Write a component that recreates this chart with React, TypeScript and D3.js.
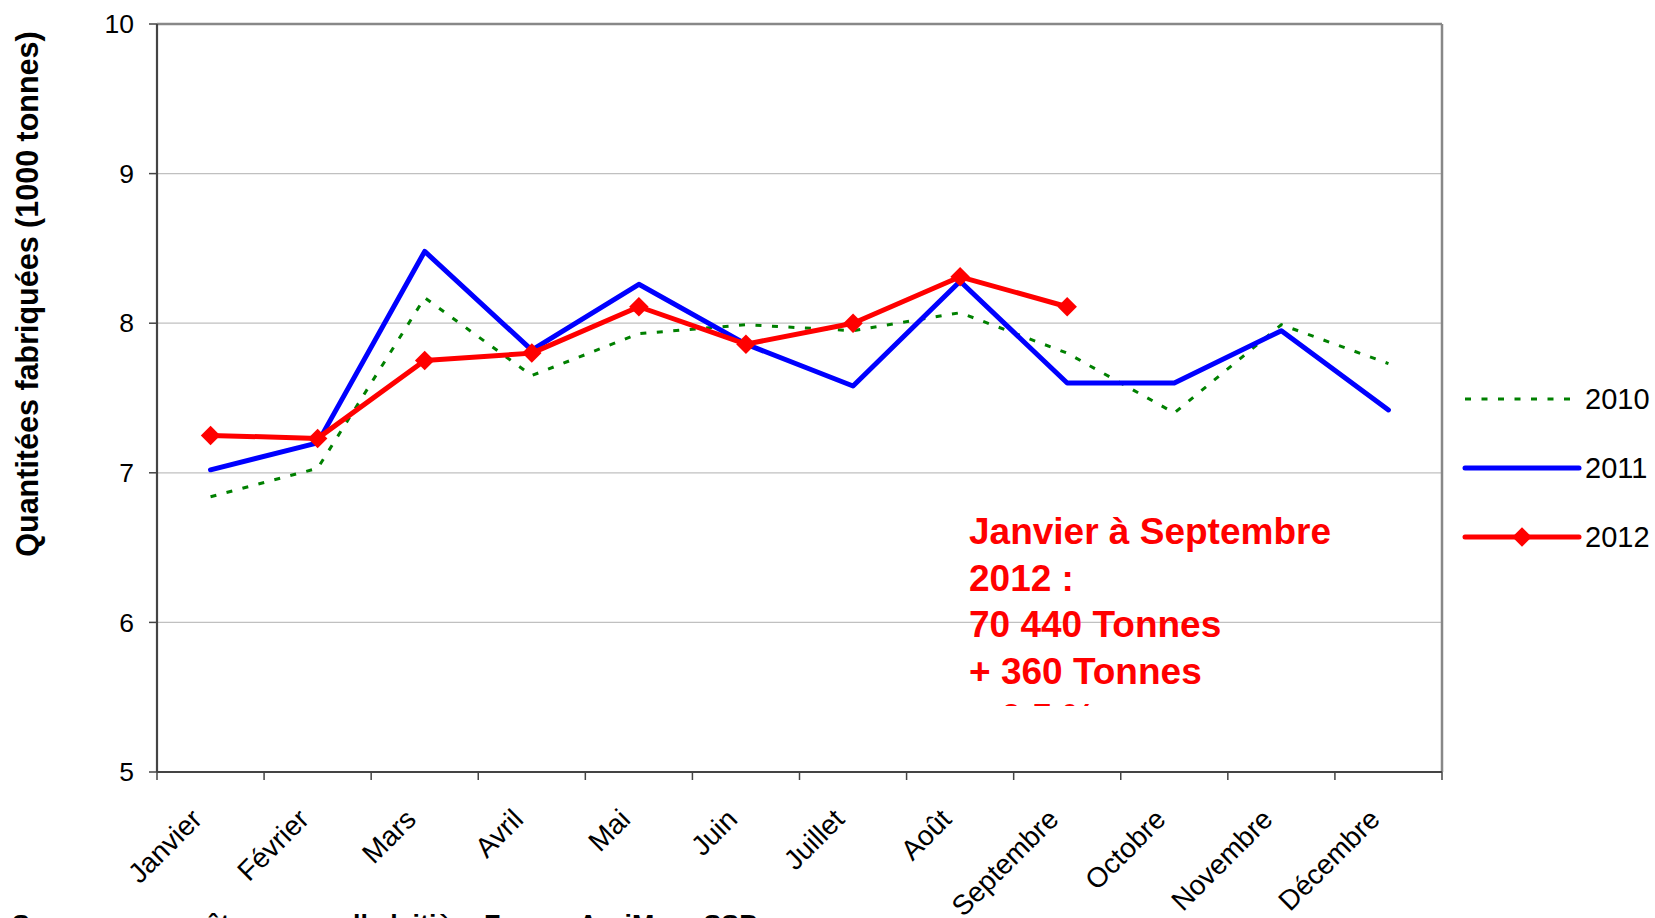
import { useEffect } from "react";
import * as d3 from "d3";

const months = ["Janvier", "Février", "Mars", "Avril", "Mai", "Juin", "Juillet", "Août", "Septembre", "Octobre", "Novembre", "Décembre"];
const values2010 = [6.84, 7.03, 8.17, 7.65, 7.93, 7.99, 7.95, 8.07, 7.8, 7.4, 7.99, 7.73];
const values2011 = [7.02, 7.2, 8.48, 7.82, 8.26, 7.86, 7.58, 8.28, 7.6, 7.6, 7.95, 7.42];
const values2012 = [7.25, 7.23, 7.75, 7.8, 8.11, 7.86, 8.0, 8.31, 8.11];
const yTicks = [5, 6, 7, 8, 9, 10];
const noteLines = ["Janvier à Septembre", "2012 :", "70 440 Tonnes", "+ 360 Tonnes", "+ 0,5 %"];
const legendItems = ["2010", "2011", "2012"];

const W = 1655;
const H = 918;
const left = 157;
const right = 1442;
const top = 24;
const bottom = 772;
const font = "Arial, 'Liberation Sans', sans-serif";

const App = () => {
  useEffect(() => {
    document.body.style.margin = "0";
  }, []);

  const x = d3.scaleBand<string>().domain(months).range([left, right]);
  const cx = (m: string) => (x(m) ?? 0) + x.bandwidth() / 2;
  const y = d3.scaleLinear().domain([5, 10]).range([bottom, top]);

  const line = d3
    .line<number>()
    .x((_, i) => cx(months[i]))
    .y(d => y(d));

  const diamond = d3.symbol().type(d3.symbolSquare).size(190)()!;
  const legendY = d3.scalePoint<string>().domain(legendItems).range([399, 537]);
  const tickEdges = d3.range(months.length + 1).map(i => left + i * x.step());

  return (
    <svg width={W} height={H} style={{ display: "block", background: "#fff" }} fontFamily={font}>
      <defs>
        <clipPath id="noteClip">
          <rect x={900} y={480} width={500} height={226} />
        </clipPath>
      </defs>

      {/* grid */}
      {yTicks.slice(1, -1).map(t => (
        <line key={t} x1={left} x2={right} y1={y(t)} y2={y(t)} stroke="#c0c0c0" strokeWidth={1.2} />
      ))}
      {/* frame top/right */}
      <line x1={left} x2={right} y1={top} y2={top} stroke="#888" strokeWidth={2.5} />
      <line x1={right} x2={right} y1={top} y2={bottom} stroke="#888" strokeWidth={2.5} />

      {/* y axis */}
      <line x1={left} x2={left} y1={top} y2={bottom} stroke="#444" strokeWidth={2.2} />
      {yTicks.map(t => (
        <g key={t}>
          <line x1={left - 8} x2={left} y1={y(t)} y2={y(t)} stroke="#444" strokeWidth={1.5} />
          <text x={134} y={y(t)} dy="0.35em" textAnchor="end" fontSize={26.5} fill="#000">
            {t}
          </text>
        </g>
      ))}

      {/* x axis */}
      <line x1={left} x2={right} y1={bottom} y2={bottom} stroke="#444" strokeWidth={2.2} />
      {tickEdges.map((tx, i) => (
        <line key={i} x1={tx} x2={tx} y1={bottom} y2={bottom + 8} stroke="#444" strokeWidth={1.5} />
      ))}
      {months.map(m => (
        <text
          key={m}
          transform={`translate(${cx(m) - 7},${bottom + 49}) rotate(-45)`}
          textAnchor="end"
          fontSize={28}
          fill="#000"
        >
          {m}
        </text>
      ))}

      <text
        transform={`translate(38,294) rotate(-90)`}
        textAnchor="middle"
        fontSize={30.5}
        fontWeight="bold"
        fill="#000"
      >
        Quantitées fabriquées (1000 tonnes)
      </text>

      {/* series */}
      <path d={line(values2010)!} fill="none" stroke="#008000" strokeWidth={3} strokeDasharray="6,10.5" />
      <path d={line(values2011)!} fill="none" stroke="#0000ff" strokeWidth={5} strokeLinejoin="round" strokeLinecap="round" />
      <path d={line(values2012)!} fill="none" stroke="#ff0000" strokeWidth={5} strokeLinejoin="round" strokeLinecap="round" />
      {values2012.map((v, i) => (
        <path key={i} d={diamond} transform={`translate(${cx(months[i])},${y(v)}) rotate(45)`} fill="#ff0000" />
      ))}

      {/* note */}
      <g clipPath="url(#noteClip)">
        {noteLines.map((t, i) => (
          <text key={i} x={969} y={544 + i * 46.5} fontSize={37} fontWeight="bold" fill="#ff0000">
            {t}
          </text>
        ))}
      </g>

      {/* legend */}
      {legendItems.map((k, i) => {
        const ly = legendY(k)!;
        return (
          <g key={k}>
            {i === 0 && (
              <line x1={1465} x2={1579} y1={ly} y2={ly} stroke="#008000" strokeWidth={3} strokeDasharray="6,10.5" />
            )}
            {i === 1 && (
              <line x1={1465} x2={1579} y1={ly} y2={ly} stroke="#0000ff" strokeWidth={5} strokeLinecap="round" />
            )}
            {i === 2 && (
              <g>
                <line x1={1465} x2={1579} y1={ly} y2={ly} stroke="#ff0000" strokeWidth={5} strokeLinecap="round" />
                <path d={diamond} transform={`translate(1522,${ly}) rotate(45)`} fill="#ff0000" />
              </g>
            )}
            <text x={1585} y={ly + 10} fontSize={29} fill="#000">
              {k}
            </text>
          </g>
        );
      })}

      {/* source, cut by the bottom edge */}
      <text x={12} y={934} fontSize={26.8} fontWeight="bold" fill="#000">
        Sources : enquête mensuelle laitière France AgriMer - SSP
      </text>
    </svg>
  );
};

export default App;
